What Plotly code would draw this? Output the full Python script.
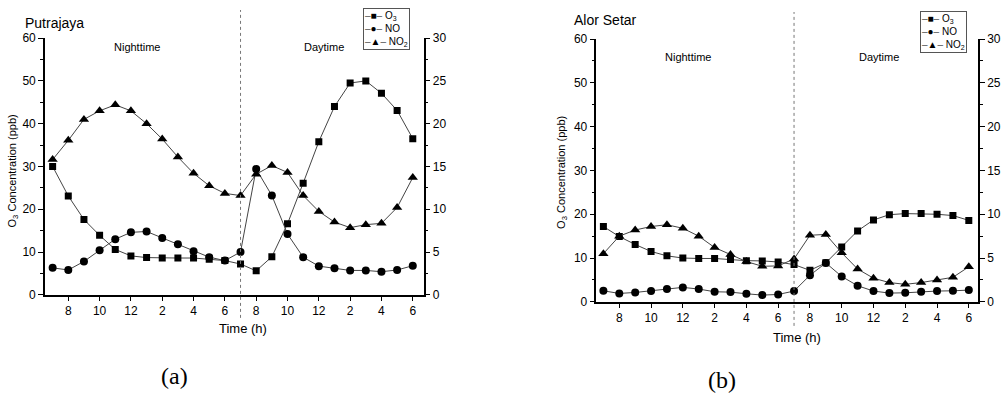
import plotly.graph_objects as go

W, H = 1001, 397

# ---------------- data ----------------
hour_index = list(range(24))  # 7 pm ... 6 pm (next day)
tick_index = [1, 3, 5, 7, 9, 11, 13, 15, 17, 19, 21, 23]
tick_text = ["8", "10", "12", "2", "4", "6", "8", "10", "12", "2", "4", "6"]

putrajaya_o3 = [30.0, 23.1, 17.6, 13.9, 10.6, 9.1, 8.7, 8.6, 8.6, 8.6, 8.3, 8.0,
                7.2, 5.6, 8.9, 16.6, 26.1, 35.8, 44.0, 49.5, 50.0, 47.1, 43.1, 36.5]
putrajaya_no = [3.15, 2.9, 3.9, 5.2, 6.5, 7.3, 7.4, 6.65, 5.9, 5.1, 4.4, 4.0,
                5.0, 14.7, 11.6, 7.1, 4.4, 3.35, 3.1, 2.85, 2.85, 2.7, 2.9, 3.4]
putrajaya_no2 = [15.8, 18.05, 20.5, 21.5, 22.2, 21.5, 20.0, 18.2, 16.1, 14.2, 12.75, 11.85,
                 11.6, 14.1, 15.1, 14.3, 11.6, 9.75, 8.5, 7.85, 8.2, 8.35, 10.2, 13.7]

alorsetar_o3 = [17.2, 14.9, 13.1, 11.5, 10.5, 10.0, 9.9, 9.9, 9.65, 9.4, 9.35, 9.1,
                8.5, 7.2, 8.9, 12.5, 16.2, 18.7, 19.9, 20.15, 20.15, 20.0, 19.7, 18.6]
alorsetar_no = [1.26, 0.96, 1.07, 1.23, 1.46, 1.65, 1.46, 1.15, 1.11, 0.92, 0.77, 0.84,
                1.23, 3.03, 4.44, 2.9, 1.84, 1.23, 1.0, 1.03, 1.15, 1.23, 1.26, 1.34]
alorsetar_no2 = [5.5, 7.5, 8.2, 8.6, 8.8, 8.4, 7.5, 6.2, 5.4, 4.6, 4.06, 4.1,
                 4.9, 7.6, 7.7, 5.6, 3.75, 2.7, 2.2, 2.0, 2.2, 2.5, 2.8, 4.0]

series_names = ["O<sub>3</sub>", "NO", "NO<sub>2</sub>"]
legend_glyphs = ["\u25A0", "\u25CF", "\u25B2"]
symbols = ["square", "circle", "triangle-up"]
marker_sizes = [7, 8, 9]

FONT = "Arial, Liberation Sans, sans-serif"

# the photographed page shows the figure with a small vertical offset/scale;
# positions below are given in photo pixels and converted to layout pixels.
Y_OFF, Y_SCALE = 7.0, 0.962


def px(x):
    return x / W


def py(y):
    return 1 - ((y - Y_OFF) / Y_SCALE) / H


fig = go.Figure()

panels = [
    dict(data=[putrajaya_o3, putrajaya_no, putrajaya_no2], xa="x", ya_l="y", ya_r="y2"),
    dict(data=[alorsetar_o3, alorsetar_no, alorsetar_no2], xa="x2", ya_l="y3", ya_r="y4"),
]

for p in panels:
    for k, (vals, name, sym, ms) in enumerate(zip(p["data"], series_names, symbols, marker_sizes)):
        fig.add_trace(go.Scatter(
            x=hour_index, y=vals, name=name, mode="lines+markers",
            xaxis=p["xa"], yaxis=p["ya_l"] if k == 0 else p["ya_r"],
            line=dict(color="#444444", width=1),
            marker=dict(symbol=sym, size=ms, color="black"),
            showlegend=False,
        ))

axis_common = dict(showline=True, linecolor="black", linewidth=1.5, ticks="outside",
                   ticklen=5, tickwidth=1.2, tickcolor="black", showgrid=False, zeroline=False,
                   tickfont=dict(family=FONT, size=12, color="black"))

xaxis_common = dict(axis_common, tickmode="array", tickvals=tick_index, ticktext=tick_text,
                    ticklen=4)

left_common = dict(axis_common, range=[0, 60], dtick=10, tick0=0,
                   minor=dict(ticks="outside", ticklen=3, dtick=5, tickcolor="black", tickwidth=1.2))
right_common = dict(axis_common, range=[0, 30], dtick=5, tick0=0, side="right",
                    minor=dict(ticks="outside", ticklen=3, dtick=2.5, tickcolor="black", tickwidth=1.2))

fig.update_layout(
    width=W, height=H,
    margin=dict(l=0, r=0, t=0, b=0),
    paper_bgcolor="white", plot_bgcolor="white",
    font=dict(family=FONT, color="black"),
    xaxis=dict(xaxis_common, domain=[px(45), px(424)], range=[-0.49, 23.69], anchor="y"),
    yaxis=dict(left_common, domain=[py(294), py(38)], anchor="x"),
    yaxis2=dict(right_common, domain=[py(294), py(38)], anchor="x", overlaying="y"),
    xaxis2=dict(xaxis_common, domain=[px(597), px(979)], range=[-0.44, 23.58], anchor="y3"),
    yaxis3=dict(left_common, domain=[py(301), py(39)], anchor="x2"),
    yaxis4=dict(right_common, domain=[py(301), py(39)], anchor="x2", overlaying="y3"),
    showlegend=False,
)

# day/night separators
fig.add_shape(type="line", xref="x", yref="paper", x0=12, x1=12, y0=py(317), y1=py(10),
              line=dict(color="#777777", width=1, dash="dot"))
fig.add_shape(type="line", xref="x2", yref="paper", x0=12, x1=12, y0=py(325), y1=py(12),
              line=dict(color="#777777", width=1, dash="dot"))

# legend boxes
legend_text = "<br>".join(f"<span style='color:#555'>\u2013</span>{g}<span style='color:#555'>\u2013</span> {n}"
                          for g, n in zip(legend_glyphs, series_names))
for x, y in [(363, 8), (921, 11)]:
    fig.add_annotation(text=legend_text, x=px(x), y=py(y), xref="paper", yref="paper",
                       xanchor="left", yanchor="top", align="left", showarrow=False,
                       bordercolor="#555555", borderwidth=1, borderpad=1, bgcolor="white",
                       font=dict(family=FONT, size=10, color="black"))

annotations = [
    dict(text="Putrajaya", x=px(23), y=py(23), xanchor="left", size=14),
    dict(text="Alor Setar", x=px(573), y=py(20), xanchor="left", size=14),
    dict(text="Nighttime", x=px(137), y=py(47), xanchor="center", size=11),
    dict(text="Daytime", x=px(324), y=py(47), xanchor="center", size=11),
    dict(text="Nighttime", x=px(689), y=py(57), xanchor="center", size=11),
    dict(text="Daytime", x=px(880), y=py(57), xanchor="center", size=11),
    dict(text="Time (h)", x=px(243), y=py(328), xanchor="center", size=13),
    dict(text="Time (h)", x=px(798), y=py(337), xanchor="center", size=13),
]
for a in annotations:
    fig.add_annotation(text=a["text"], x=a["x"], y=a["y"], xref="paper", yref="paper",
                       xanchor=a["xanchor"], yanchor="middle", showarrow=False,
                       font=dict(family=FONT, size=a["size"], color="black"))

for text, x, y in [("O<sub>3</sub> Concentration (ppb)", 13, 170),
                   ("O<sub>3</sub> Concentration (ppb)", 563, 172)]:
    fig.add_annotation(text=text, x=px(x), y=py(y), xref="paper", yref="paper",
                       textangle=-90, showarrow=False, xanchor="center", yanchor="middle",
                       font=dict(family=FONT, size=11, color="black"))

for text, x, y in [("(a)", 175, 375), ("(b)", 723, 379)]:
    fig.add_annotation(text=text, x=px(x), y=py(y), xref="paper", yref="paper",
                       showarrow=False, xanchor="center", yanchor="middle",
                       font=dict(family="Liberation Serif, Times New Roman, serif", size=24, color="black"))

fig.write_html("out.html", config={"displayModeBar": False},
               post_script="document.body.style.margin='0';document.body.style.overflow='hidden';")
